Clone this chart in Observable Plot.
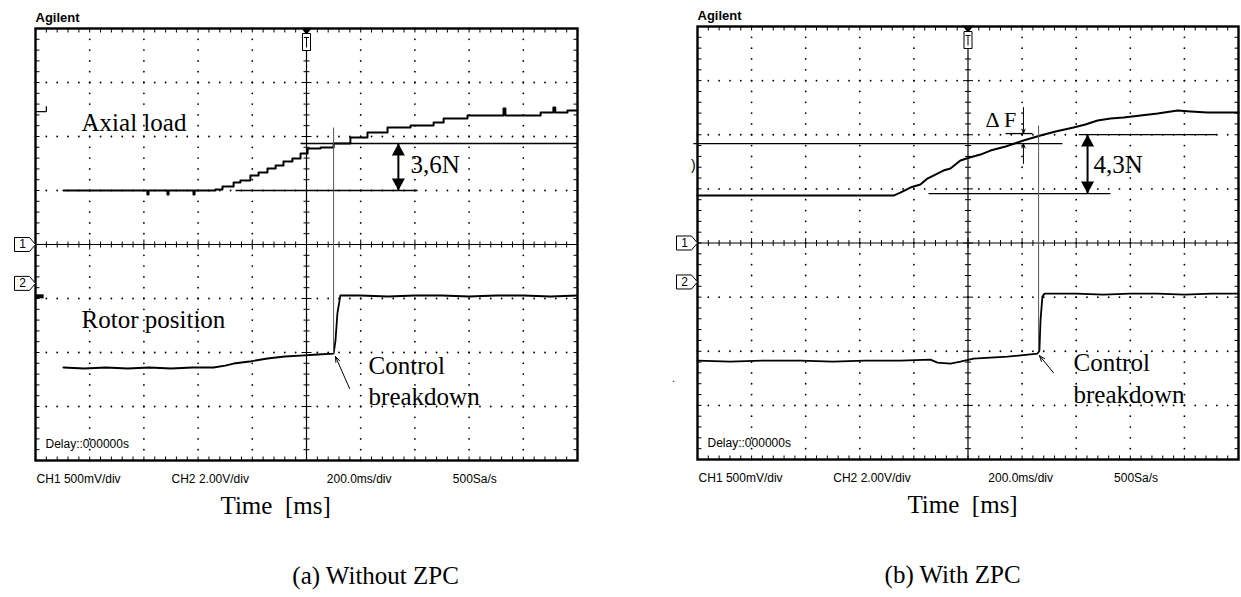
<!DOCTYPE html>
<html><head><meta charset="utf-8">
<script src="https://cdn.jsdelivr.net/npm/d3@7"></script>
<script src="https://cdn.jsdelivr.net/npm/@observablehq/plot@0.6"></script>
<style>
html,body{margin:0;padding:0;background:#fff;}
#fig{display:flex;width:1241px;height:597px;overflow:hidden;}
#fig svg{flex:none;}
</style></head><body><div id="fig"></div>
<script>
// ---- Time axis: 10 divisions x 200 ms; vertical: 8 divisions (screen divisions)
const scopeLabels = ["CH1 500mV/div", "CH2 2.00V/div", "200.0ms/div", "500Sa/s"];
const scopeLabelT = [4, 502, 1075, 1540];
const delayLabel = "Delay::000000s";
const brandLabel = "Agilent";

// (a) Without ZPC
const leftLoadT = [103,240,410,413,417,424,484,487,491,580,583,587,609,664,690,731,756,793,823,856,886,915,948,978,1004,1052,1100,1162,1225,1299,1384,1469,1506,1594,1720,1727,1734,1838,1864,1905,1911,1918,1963,2000];
const leftLoadV = [1.000,1.000,1.000,0.926,1.000,1.000,1.000,0.926,1.000,1.000,0.926,1.000,1.000,1.019,1.074,1.148,1.185,1.278,1.333,1.407,1.463,1.537,1.593,1.685,1.778,1.796,1.870,1.981,2.074,2.167,2.204,2.259,2.333,2.389,2.389,2.519,2.389,2.389,2.444,2.444,2.537,2.444,2.481,2.481];
const leftRotorT = [103,180,260,340,420,500,580,657,700,731,790,856,920,978,1040,1100,1107,1114,1125,1200,1300,1400,1500,1600,1700,1800,1900,2000];
const leftRotorV = [-2.278,-2.296,-2.278,-2.296,-2.278,-2.296,-2.278,-2.278,-2.241,-2.204,-2.167,-2.111,-2.074,-2.056,-2.037,-2.019,-1.778,-1.278,-0.944,-0.944,-0.963,-0.944,-0.944,-0.963,-0.944,-0.944,-0.963,-0.944];
const leftRefX1 = [978, 738];
const leftRefX2 = [2000, 1410];
const leftRefY = [1.870, 1.0];
const leftCursor = {t: 1100, top: 2.167, bottom: -2.019};
const leftDim = {t: 1339, top: 1.870, bottom: 1.0, label: "3,6N", lt: 1384, lv: 1.463};
const leftPointer = {t1: 1159, v1: -2.667, t2: 1107, v2: -2.074};
const leftTexts = ["Axial load", "Rotor position", "Control", "breakdown"];
const leftTextT = [170, 170, 1229, 1229];
const leftTextV = [2.241, -1.389, -2.241, -2.815];
const leftCaption = ["Time  [ms]", "(a) Without ZPC"];
const leftCaptionT = [886, 1255];

// (b) With ZPC
const rightLoadT = [0,196,381,566,725,750,787,824,850,909,935,972,1006,1046,1083,1139,1205,1268,1324,1390,1434,1479,1527,1575,1638,1701,1775,1823,1885,2000];
const rightLoadV = [0.876,0.876,0.876,0.876,0.876,0.932,1.024,1.080,1.190,1.338,1.375,1.523,1.579,1.634,1.708,1.782,1.893,1.986,2.059,2.133,2.189,2.263,2.299,2.318,2.355,2.392,2.447,2.429,2.410,2.410];
const rightRotorT = [0,120,240,381,500,620,750,861,887,935,972,1020,1146,1257,1264,1268,1275,1283,1400,1500,1600,1700,1800,1900,2000];
const rightRotorV = [-2.174,-2.192,-2.174,-2.174,-2.192,-2.174,-2.174,-2.155,-2.211,-2.229,-2.192,-2.137,-2.100,-2.044,-1.989,-1.434,-0.991,-0.935,-0.935,-0.954,-0.935,-0.935,-0.954,-0.935,-0.935];
const rightRefX1 = [-15, 1409, 854, 1139];
const rightRefX2 = [1349, 1919, 1527, 1238];
const rightRefY = [1.837, 2.004, 0.913, 2.022];
const rightCursor = {t: 1261, top: 2.170, bottom: -1.99};
const rightDim = {t: 1442, top: 2.004, bottom: 0.913, label: "4,3N", lt: 1464, lv: 1.449};
const rightPointer = {t1: 1316, v1: -2.396, t2: 1264, v2: -2.081};
const rightDeltaArrowsT = [1205, 1205];
const rightDeltaArrowsFrom = [2.503, 1.468];
const rightDeltaArrowsTo = [2.022, 1.837];
const rightDeltaLabel = {text: "Δ F", t: 1065, v: 2.281};
const rightTexts = ["Control", "breakdown"];
const rightTextT = [1390, 1390];
const rightTextV = [-2.211, -2.802];
const rightCaption = ["Time  [ms]", "(b) With ZPC"];
const rightCaptionT = [980, 943];

const serif = "'Liberation Serif', 'Times New Roman', serif";
const sans = "'Liberation Sans', Arial, sans-serif";

const headUp = {draw(c){ c.moveTo(0,0); c.lineTo(-6.5,12); c.lineTo(6.5,12); c.closePath(); }};
const headDown = {draw(c){ c.moveTo(0,0); c.lineTo(-6.5,-12); c.lineTo(6.5,-12); c.closePath(); }};
const chMarker = {draw(c){ c.moveTo(0,0); c.lineTo(-6,-7); c.lineTo(-21,-7); c.lineTo(-21,7); c.lineTo(-6,7); c.closePath(); }};
const trigTri = {draw(c){ c.moveTo(-4,0); c.lineTo(4,0); c.lineTo(0,5); c.closePath(); }};
const trigBox = {draw(c){ c.moveTo(-4,5); c.lineTo(4,5); c.lineTo(4,22); c.lineTo(-4,22); c.closePath(); c.moveTo(-2.5,9); c.lineTo(2.5,9); c.moveTo(0,9); c.lineTo(0,19); }};

function zip(t, v) { return t.map((x, i) => ({t: x, v: v[i]})); }

function panel(p) {
  const pw = p.plotWidth, ph = p.plotHeight;
  const msPx = 2000 / pw, divPx = 8 / ph;
  const minorX = d3.range(0, 2000.001, 40);
  const minorY = d3.range(0, 41).map(i => -4 + i * 0.2);
  const majorX = d3.range(200, 1801, 200).filter(x => x !== 1000);
  const majorY = [-3, -2, -1, 1, 2, 3];
  const dots = [];
  for (const x of majorX) for (const y of minorY) dots.push({x, y});
  for (const y of majorY) for (const x of minorX) dots.push({x, y});
  const ticks = [];
  for (const x of minorX) {
    ticks.push({x1: x, x2: x, y1: 4, y2: 4 - 4 * divPx});
    ticks.push({x1: x, x2: x, y1: -4, y2: -4 + 4 * divPx});
    const L = (Math.round(x) % 200 === 0) ? 5 : 3;
    ticks.push({x1: x, x2: x, y1: -L * divPx, y2: L * divPx});
  }
  for (const y of minorY) {
    ticks.push({x1: 0, x2: 4 * msPx, y1: y, y2: y});
    ticks.push({x1: 2000, x2: 2000 - 4 * msPx, y1: y, y2: y});
    const L = (Math.abs(y - Math.round(y)) < 1e-6) ? 5 : 3;
    ticks.push({x1: 1000 - L * msPx, x2: 1000 + L * msPx, y1: y, y2: y});
  }
  const refs = p.refX1.map((x, i) => ({x1: x, x2: p.refX2[i], y: p.refY[i]}));
  const texts = p.texts.map((s, i) => ({s, t: p.textT[i], v: p.textV[i]}));
  const scope = scopeLabels.map((s, i) => ({s, t: scopeLabelT[i]}));
  const caps = p.caption.map((s, i) => ({s, t: p.captionT[i], v: i === 0 ? -4.84 : -6.14}));

  const marks = [
    Plot.dot(dots, {x: "x", y: "y", r: 0.9, fill: "#000", stroke: null}),
    Plot.ruleX([1000], {stroke: "#000", strokeWidth: 1.2}),
    Plot.ruleY([0], {stroke: "#000", strokeWidth: 1.2}),
    Plot.link(ticks, {x1: "x1", x2: "x2", y1: "y1", y2: "y2", stroke: "#000", strokeWidth: 1}),
    Plot.frame({stroke: "#000", strokeWidth: 2.4}),
    // traces
    Plot.line(zip(p.loadT, p.loadV), {x: "t", y: "v", curve: p.loadCurve, stroke: "#000", strokeWidth: 2}),
    Plot.line(zip(p.rotorT, p.rotorV), {x: "t", y: "v", stroke: "#000", strokeWidth: 1.8}),
    // annotations
    Plot.link(refs, {x1: "x1", x2: "x2", y1: "y", y2: "y", stroke: "#000", strokeWidth: 1.3}),
    Plot.link([p.cursor], {x1: "t", x2: "t", y1: "top", y2: "bottom", stroke: "#555", strokeWidth: 1}),
    Plot.link([p.dim], {x1: "t", x2: "t", y1: "top", y2: "bottom", stroke: "#000", strokeWidth: 2}),
    Plot.dot([p.dim], {x: "t", y: "top", symbol: headUp, r: 4, fill: "#000", stroke: null}),
    Plot.dot([p.dim], {x: "t", y: "bottom", symbol: headDown, r: 4, fill: "#000", stroke: null}),
    Plot.text([p.dim], {x: "lt", y: "lv", text: "label", textAnchor: "start", lineAnchor: "middle", fontFamily: serif, fontSize: 25, fill: "#000"}),
    Plot.arrow([p.pointer], {x1: "t1", y1: "v1", x2: "t2", y2: "v2", headLength: 9, headAngle: 40, stroke: "#000", strokeWidth: 1}),
    Plot.text(texts, {x: "t", y: "v", text: "s", textAnchor: "start", lineAnchor: "middle", fontFamily: serif, fontSize: 25, fill: "#000"}),
    // channel markers and trigger marker
    Plot.dot([0, -0.72], {x: () => 0, y: d => d, symbol: chMarker, r: 4, fill: "#fff", stroke: "#000", strokeWidth: 1}),
    Plot.text(["1", "2"], {x: () => 0, y: (d, i) => i === 0 ? 0 : -0.72, text: d => d, dx: -13, lineAnchor: "middle", textAnchor: "middle", fontFamily: sans, fontSize: 12, fill: "#000"}),
    Plot.dot([1000], {x: d => d, y: () => 4, symbol: trigTri, r: 4, fill: "#000", stroke: "#000"}),
    Plot.dot([1000], {x: d => d, y: () => 4, symbol: trigBox, r: 4, fill: "#fff", stroke: "#000", strokeWidth: 1}),
    // scope text
    Plot.text([brandLabel], {x: () => 0, y: () => 4.2, text: d => d, textAnchor: "start", lineAnchor: "middle", fontFamily: sans, fontWeight: "bold", fontSize: 13, fill: "#000"}),
    Plot.text([delayLabel], {x: () => 37, y: () => -3.69, text: d => d, textAnchor: "start", lineAnchor: "middle", fontFamily: sans, fontSize: 12, fill: "#000"}),
    Plot.text(scope, {x: "t", y: () => -4.34, text: "s", textAnchor: "start", lineAnchor: "middle", fontFamily: sans, fontSize: 12, fill: "#000"}),
    Plot.text(caps, {x: "t", y: "v", text: "s", textAnchor: "middle", lineAnchor: "middle", fontFamily: serif, fontSize: 25, fill: "#000"})
  ];
  if (p.extra) marks.push(...p.extra);
  return Plot.plot({
    width: p.width, height: 597,
    marginLeft: p.marginLeft, marginRight: p.width - p.marginLeft - pw,
    marginTop: p.marginTop, marginBottom: 597 - p.marginTop - ph,
    x: {domain: [0, 2000], axis: null},
    y: {domain: [-4, 4], axis: null},
    style: {background: "#fff", overflow: "visible", fontFamily: sans},
    marks
  });
}

const leftExtra = [
  Plot.link([{x1: 0, x2: 40, y: 2.46}], {x1: "x1", x2: "x2", y1: "y", y2: "y", stroke: "#000", strokeWidth: 1.2}),
  Plot.link([{t: 40, y1: 2.46, y2: 2.56}], {x1: "t", x2: "t", y1: "y1", y2: "y2", stroke: "#000", strokeWidth: 1.2}),
  Plot.link([{x1: 0, x2: 30, y: -0.96}], {x1: "x1", x2: "x2", y1: "y", y2: "y", stroke: "#000", strokeWidth: 4})
];
const rightExtra = [
  Plot.arrow(rightDeltaArrowsT.map((t, i) => ({t, a: rightDeltaArrowsFrom[i], b: rightDeltaArrowsTo[i]})), {x1: "t", x2: "t", y1: "a", y2: "b", headLength: 7, headAngle: 40, stroke: "#000", strokeWidth: 1}),
  Plot.text([rightDeltaLabel], {x: "t", y: "v", text: "text", textAnchor: "start", lineAnchor: "middle", fontFamily: serif, fontSize: 22, fill: "#000"}),
  Plot.text([")"], {x: () => -15, y: () => 1.431, text: d => d, textAnchor: "middle", lineAnchor: "middle", fontFamily: sans, fontSize: 14, fill: "#000"}),
  Plot.text(["."], {x: () => -89, y: () => -2.507, text: d => d, textAnchor: "middle", lineAnchor: "middle", fontFamily: sans, fontSize: 11, fill: "#000"})
];

const fig = document.getElementById("fig");
fig.append(panel({
  width: 621, marginLeft: 35, marginTop: 28, plotWidth: 542, plotHeight: 432,
  loadT: leftLoadT, loadV: leftLoadV, loadCurve: "step-after",
  rotorT: leftRotorT, rotorV: leftRotorV,
  refX1: leftRefX1, refX2: leftRefX2, refY: leftRefY,
  cursor: leftCursor, dim: leftDim, pointer: leftPointer,
  texts: leftTexts, textT: leftTextT, textV: leftTextV,
  caption: leftCaption, captionT: leftCaptionT, extra: leftExtra
}));
fig.append(panel({
  width: 620, marginLeft: 76, marginTop: 26, plotWidth: 541, plotHeight: 433,
  loadT: rightLoadT, loadV: rightLoadV, loadCurve: "linear",
  rotorT: rightRotorT, rotorV: rightRotorV,
  refX1: rightRefX1, refX2: rightRefX2, refY: rightRefY,
  cursor: rightCursor, dim: rightDim, pointer: rightPointer,
  texts: rightTexts, textT: rightTextT, textV: rightTextV,
  caption: rightCaption, captionT: rightCaptionT, extra: rightExtra
}));
</script></body></html>
